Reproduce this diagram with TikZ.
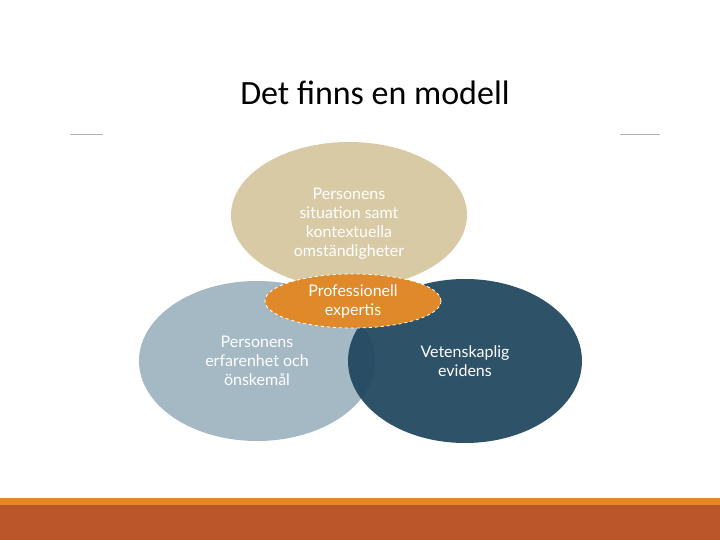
\documentclass[tikz,border=0pt]{standalone}
\usepackage{fontspec}
\setmainfont{Carlito}
\newfontfamily\bodyfont{Lato}
\usetikzlibrary{positioning}
\definecolor{tan}{HTML}{D8C8A2}
\definecolor{greyblue}{HTML}{A5B9C5}
\definecolor{navy}{HTML}{1F455D}
\definecolor{amber}{HTML}{E0892B}
\definecolor{rust}{HTML}{BA562A}
\tikzset{
  lbl/.style={text=white, font=\bodyfont\fontsize{16}{19}\selectfont, align=center}
}
\begin{document}
\begin{tikzpicture}[x=1pt,y=-1pt]
    \useasboundingbox (0,0) rectangle (720,540);
    \fill [white] (0,0) rectangle (720,540);
    \node (title) at (375,93) {\fontsize{34}{40}\selectfont Det finns en modell};
    \draw [gray!60] (70,134) -- (103,134);
    \draw [gray!60] (620,134) -- (660,134);
    % circles
    \fill [greyblue] (257,361) ellipse (118 and 80);
    \fill [navy, opacity=0.93] (465,361) ellipse (117 and 82);
    \fill [tan, opacity=0.95] (349,215) ellipse (118 and 73);
    \filldraw [fill=amber, draw=white, dashed, thick] (353,301) ellipse (88 and 27);
    \node [lbl] (situation) at (349,224) {Personens\\situation samt\\kontextuella\\omständigheter};
    \node [lbl] (expert) at (353,301) {Professionell\\expertis};
    \node [lbl] (wish) at (257,361) {Personens\\erfarenhet och\\önskemål};
    \node [lbl] (evidence) at (465,361) {Vetenskaplig\\evidens};
    % bottom bar
    \fill [amber] (0,498) rectangle (720,505);
    \fill [rust] (0,505) rectangle (720,540);
\end{tikzpicture}
\end{document}
